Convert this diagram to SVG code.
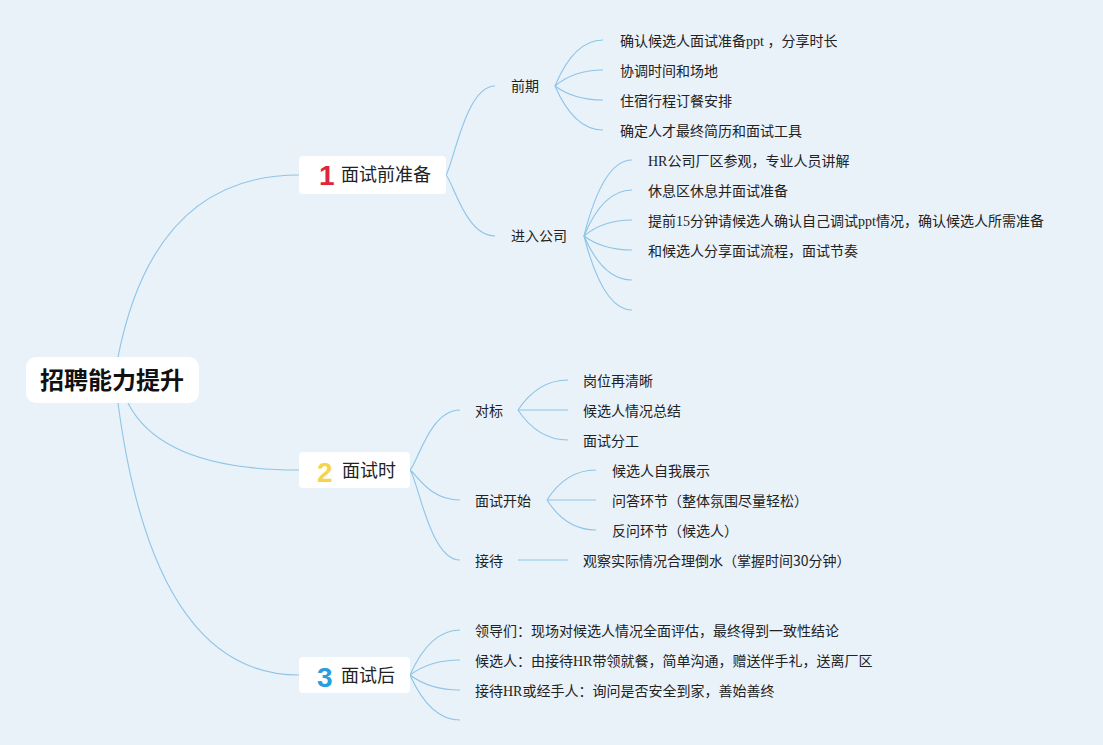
<svg xmlns="http://www.w3.org/2000/svg" width="1103" height="745" viewBox="0 0 1103 745">
<style>
.bg{fill:#e9f1f9}
.box{fill:#ffffff}
.ln{fill:none;stroke:#8cc5e8;stroke-width:1.1}
.t{font-family:"Noto Sans CJK SC","Noto Sans",sans-serif;font-size:14px;fill:#222}
.n{font-family:"Noto Sans CJK SC","Noto Sans",sans-serif;font-size:18px;fill:#222}
.r{font-family:"Noto Sans CJK SC","Noto Sans",sans-serif;font-size:24px;font-weight:bold;fill:#111}
.num{font-family:"Liberation Sans","DejaVu Sans",sans-serif;font-size:28px;font-weight:bold}
.s{font-family:"Liberation Serif",serif}
</style>
<rect class="bg" x="0" y="0" width="1103" height="745"/>
<g id="connectors">
<path class="ln" d="M118,357 Q154,175 299,175"/>
<path class="ln" d="M128,403 Q162,470 299,470"/>
<path class="ln" d="M118,403 Q154,675 299,675"/>
<path class="ln" d="M446,175 C454,162 466,86 495,86"/>
<path class="ln" d="M446,175 C454,184 466,236 495,236"/>
<path class="ln" d="M555,86 Q574,40 603,40"/>
<path class="ln" d="M555,86 Q574,70 603,70"/>
<path class="ln" d="M555,86 Q574,100 603,100"/>
<path class="ln" d="M555,86 Q574,130 603,130"/>
<path class="ln" d="M584,236 Q603,160 632,160"/>
<path class="ln" d="M584,236 Q603,190 632,190"/>
<path class="ln" d="M584,236 Q603,220 632,220"/>
<path class="ln" d="M584,236 Q603,250 632,250"/>
<path class="ln" d="M584,236 Q603,280 632,280"/>
<path class="ln" d="M584,236 Q603,310 632,310"/>
<path class="ln" d="M410,470 C418,462 430,410 460,410"/>
<path class="ln" d="M410,470 C418,476 430,500 460,500"/>
<path class="ln" d="M410,470 C418,480 430,560 460,560"/>
<path class="ln" d="M518,410 Q538,380 568,380"/>
<path class="ln" d="M518,410 L568,410"/>
<path class="ln" d="M518,410 Q538,440 568,440"/>
<path class="ln" d="M547,500 Q566,470 596,470"/>
<path class="ln" d="M547,500 L596,500"/>
<path class="ln" d="M547,500 Q566,530 596,530"/>
<path class="ln" d="M518,560 L568,560"/>
<path class="ln" d="M410,675 Q430,630 460,630"/>
<path class="ln" d="M410,675 Q430,660 460,660"/>
<path class="ln" d="M410,675 Q430,690 460,690"/>
<path class="ln" d="M410,675 Q430,720 460,720"/>
</g>
<g id="root">
<rect class="box" x="26" y="357" width="173" height="46" rx="10"/>
<text class="r" x="112" y="389" text-anchor="middle">招聘能力提升</text>
</g>
<g id="node1">
<rect class="box" x="299" y="156" width="147" height="38" rx="4"/>
<text class="num" x="319" y="185" fill="#e0243c">1</text>
<text class="n" x="341" y="181">面试前准备</text>
</g>
<g id="node2">
<rect class="box" x="299" y="452" width="111" height="36" rx="4"/>
<text class="num" x="317" y="482" fill="#f6d54a">2</text>
<text class="n" x="342" y="477">面试时</text>
</g>
<g id="node3">
<rect class="box" x="299" y="657" width="111" height="36" rx="4"/>
<text class="num" x="317" y="687" fill="#2a9de0">3</text>
<text class="n" x="341" y="682">面试后</text>
</g>
<g id="qianqi"><text class="t" x="511" y="91">前期</text></g>
<g id="jinru"><text class="t" x="511" y="241">进入公司</text></g>
<g id="leaf1-1"><text class="t" x="620" y="46">确认候选人面试准备<tspan class="s">ppt </tspan>，分享时长</text></g>
<g id="leaf1-2"><text class="t" x="620" y="76">协调时间和场地</text></g>
<g id="leaf1-3"><text class="t" x="620" y="106">住宿行程订餐安排</text></g>
<g id="leaf1-4"><text class="t" x="620" y="136">确定人才最终简历和面试工具</text></g>
<g id="leaf2-1"><text class="t" x="648" y="166"><tspan class="s">HR</tspan>公司厂区参观，专业人员讲解</text></g>
<g id="leaf2-2"><text class="t" x="648" y="196">休息区休息并面试准备</text></g>
<g id="leaf2-3"><text class="t" x="648" y="226">提前<tspan class="s">15</tspan>分钟请候选人确认自己调试<tspan class="s">ppt</tspan>情况，确认候选人所需准备</text></g>
<g id="leaf2-4"><text class="t" x="648" y="256">和候选人分享面试流程，面试节奏</text></g>
<g id="duibiao"><text class="t" x="475" y="416">对标</text></g>
<g id="kaishi"><text class="t" x="475" y="506">面试开始</text></g>
<g id="jiedai"><text class="t" x="475" y="566">接待</text></g>
<g id="leaf3-1"><text class="t" x="583" y="386">岗位再清晰</text></g>
<g id="leaf3-2"><text class="t" x="583" y="416">候选人情况总结</text></g>
<g id="leaf3-3"><text class="t" x="583" y="446">面试分工</text></g>
<g id="leaf4-1"><text class="t" x="612" y="476">候选人自我展示</text></g>
<g id="leaf4-2"><text class="t" x="612" y="506">问答环节（整体氛围尽量轻松）</text></g>
<g id="leaf4-3"><text class="t" x="612" y="536">反问环节（候选人）</text></g>
<g id="leaf5-1"><text class="t" x="583" y="566">观察实际情况合理倒水（掌握时间30分钟）</text></g>
<g id="leaf6-1"><text class="t" x="475" y="636">领导们：现场对候选人情况全面评估，最终得到一致性结论</text></g>
<g id="leaf6-2"><text class="t" x="475" y="666">候选人：由接待<tspan class="s">HR</tspan>带领就餐，简单沟通，赠送伴手礼，送离厂区</text></g>
<g id="leaf6-3"><text class="t" x="475" y="696">接待<tspan class="s">HR</tspan>或经手人：询问是否安全到家，善始善终</text></g>
</svg>
